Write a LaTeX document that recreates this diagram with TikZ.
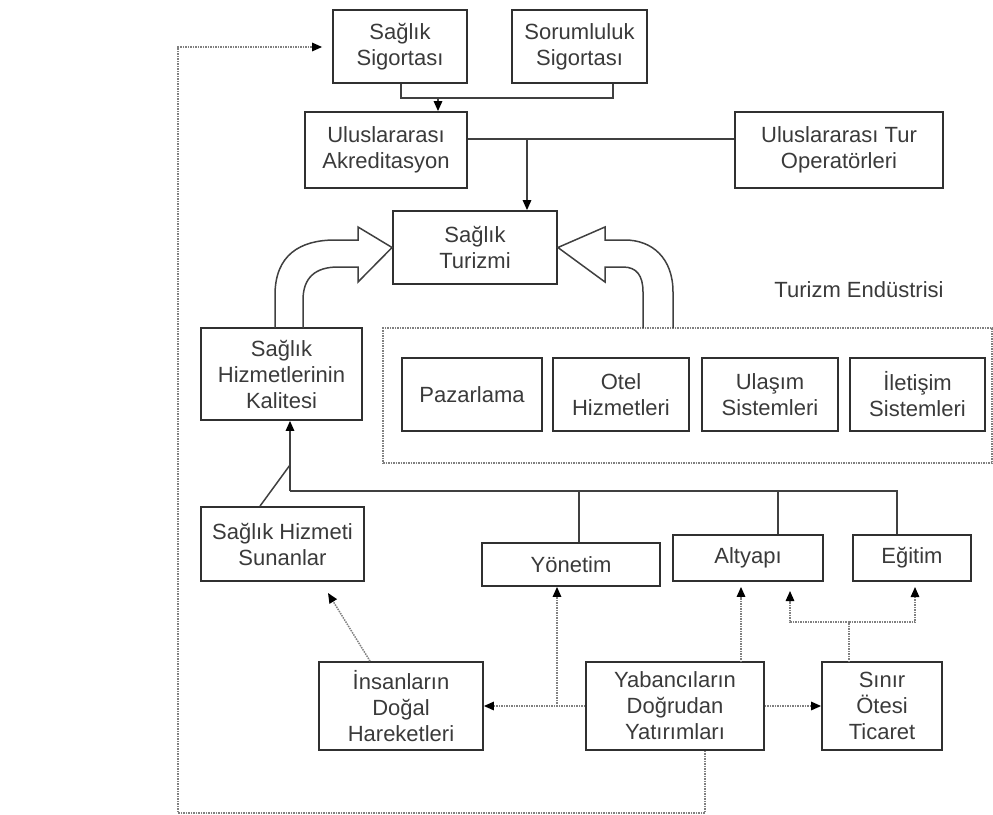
\documentclass[tikz,border=0pt]{standalone}
\usepackage{fontspec}
\setmainfont{Liberation Sans}
\usetikzlibrary{arrows.meta}
\definecolor{boxc}{HTML}{303030}
\definecolor{linec}{HTML}{404040}
\definecolor{dotc}{HTML}{808080}
\definecolor{txt}{HTML}{3A3A3A}
\begin{document}
\begin{tikzpicture}[x=1pt,y=-1pt,
  box/.style={draw=boxc, line width=1.8pt, inner sep=0pt, align=center, text=txt,
    font=\fontsize{22}{26}\selectfont},
  conn/.style={draw=linec, line width=1.5pt},
  tip/.style={-{Triangle[length=10pt,width=8.5pt,color=black]}},
  arr/.style={conn, tip},
  dotl/.style={draw=dotc, line width=1.5pt, densely dotted},
  dotarr/.style={dotl, tip},
  hollow/.style={draw=linec, line width=1.5pt, line join=miter},
]
\useasboundingbox (0,0) rectangle (993,814);

% top boxes
\node[box, minimum width=134pt, minimum height=73pt] (sig1) at (400,46.5) {Sağlık\\Sigortası};
\node[box, minimum width=135pt, minimum height=73pt] (sig2) at (579.5,46.5) {Sorumluluk\\Sigortası};
\node[box, minimum width=162pt, minimum height=76pt] (akr) at (386,150) {Uluslararası\\Akreditasyon};
\node[box, minimum width=208pt, minimum height=76pt] (tur) at (839,150) {Uluslararası Tur\\Operatörleri};
\node[box, minimum width=164pt, minimum height=73pt] (st) at (475,247.5) {Sağlık\\Turizmi};

% quality
\node[box, minimum width=161pt, minimum height=92pt] (kal) at (281.5,374) {Sağlık\\Hizmetlerinin\\Kalitesi};

% tourism industry
\node[draw=dotc, densely dotted, line width=1.5pt, minimum width=609pt, minimum height=135pt, inner sep=0pt] (te) at (687.5,395.5) {};
\node[text=txt, font=\fontsize{22}{26}\selectfont] (tel) at (859,290) {Turizm Endüstrisi};
\node[box, minimum width=140pt, minimum height=73pt] (paz) at (472,394.5) {Pazarlama};
\node[box, minimum width=136pt, minimum height=73pt] (otel) at (621,394.5) {Otel\\Hizmetleri};
\node[box, minimum width=136pt, minimum height=73pt] (ulas) at (770,394.5) {Ulaşım\\Sistemleri};
\node[box, minimum width=135pt, minimum height=73pt] (ilet) at (917.5,394.5) {İletişim\\Sistemleri};

% lower boxes
\node[box, minimum width=163pt, minimum height=74pt] (sun) at (282.5,544) {Sağlık Hizmeti\\Sunanlar};
\node[box, minimum width=178pt, minimum height=43pt] (yon) at (571,564.5) {Yönetim};
\node[box, minimum width=150pt, minimum height=46pt] (alt) at (748,558) {Altyapı};
\node[box, minimum width=118pt, minimum height=46pt] (egi) at (912,558) {Eğitim};
\node[box, minimum width=164pt, minimum height=88pt] (ins) at (401,706) {İnsanların\\Doğal\\Hareketleri};
\node[box, minimum width=178pt, minimum height=88pt] (yab) at (675,706) {Yabancıların\\Doğrudan\\Yatırımları};
\node[box, minimum width=120pt, minimum height=88pt] (sin) at (882,706) {Sınır\\Ötesi\\Ticaret};

% insurance -> accreditation
\coordinate (j1) at (438,98);
\draw[conn] (sig1.south -| 401,0) |- (j1) -| (sig2.south -| 613,0);
\draw[arr] (j1) -- (j1 |- akr.north);

% accreditation -- tour operators, arrow to health tourism
\draw[conn] ([yshift=11pt]akr.east) -- ([yshift=11pt]tur.west);
\coordinate (j2) at (527,139);
\draw[arr] (j2) -- (j2 |- st.north);

% hollow arrows
\draw[hollow] (275,328) -- (275,295) .. controls (275,255) and (300,240) .. (335,240)
  -- (358,240) -- (358,227) -- (st.west) -- (358,282) -- (358,267) -- (338,267)
  .. controls (315,267) and (303,278) .. (303,300) -- (303,328);
\draw[hollow] (673,328) -- (673,292) .. controls (673,258) and (652,240) .. (625,240)
  -- (605,240) -- (605,227) -- (st.east) -- (605,282) -- (605,267) -- (623,267)
  .. controls (637,267) and (643,276) .. (643,292) -- (643,328);

% factors -> quality
\coordinate (j3) at (290,491);
\coordinate (j4) at (290,465);
\coordinate (jy) at (579,491);
\coordinate (ja) at (778,491);
\coordinate (je) at (897,491);
\draw[arr] (j3) -- (j3 |- kal.south);
\draw[conn] ([xshift=-22.5pt]sun.north) -- (j4);
\draw[conn] (j3) -- (je) -- (je |- egi.north);
\draw[conn] (jy) -- (jy |- yon.north);
\draw[conn] (ja) -- (ja |- alt.north);

% dotted relations
\coordinate (k1) at (557,706);
\coordinate (k2) at (741,662);
\coordinate (k3) at (849,662);
\coordinate (k4) at (849,622);
\coordinate (k5) at (790,622);
\coordinate (k6) at (915,622);
\coordinate (k7) at (790,591);
\coordinate (k8) at (915,587);
\coordinate (k9) at (328,593);
\draw[dotarr] (yab.west) -- (ins.east);
\draw[dotarr] (k1) -- (k1 |- yon.south);
\draw[dotarr, shorten >=5pt] (k2) -- (k2 |- alt.south);
\draw[dotarr] (yab.east) -- (sin.west);
\draw[dotl] (k3) -- (k4);
\draw[dotarr] (k4) -- (k5) -- (k7);
\draw[dotarr] (k4) -- (k6) -- (k8);
\draw[dotarr] ([xshift=-31pt]ins.north) -- (k9);

% feedback loop
\coordinate (f1) at (705,813);
\coordinate (f2) at (178,813);
\coordinate (f3) at (178,47);
\draw[dotarr, shorten >=10pt] (yab.south -| f1) -- (f1) -- (f2) -- (f3) -- (f3 -| sig1.west);
\end{tikzpicture}
\end{document}
